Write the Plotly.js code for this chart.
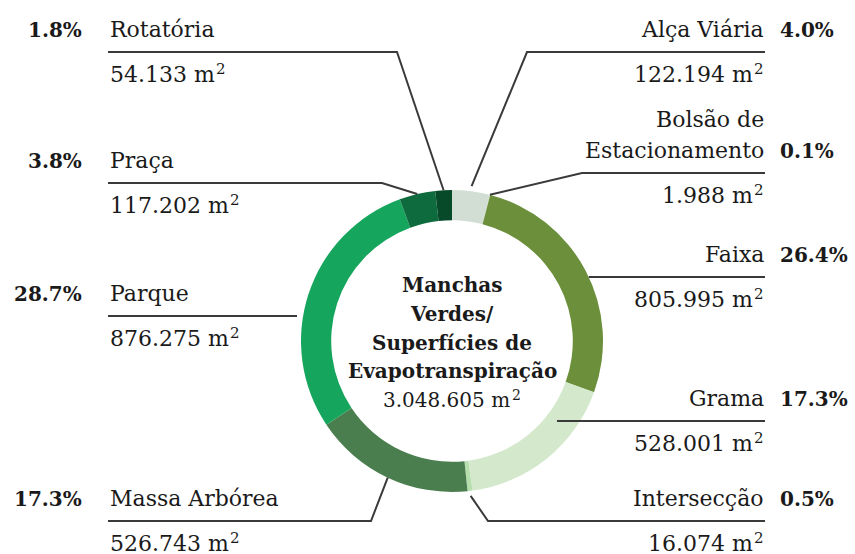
<!DOCTYPE html>
<html>
<head>
<meta charset="utf-8">
<script src="https://cdn.plot.ly/plotly-3.0.1.min.js"></script>
<style>
  html, body { margin: 0; padding: 0; background: #ffffff; }
  #chart { width: 855px; height: 554px; }
</style>
</head>
<body>
<div id="chart"></div>
<script>
// Green-area categories, in clockwise order from 12 o'clock
const categories = ['Alça Viária', 'Bolsão de Estacionamento', 'Faixa', 'Grama', 'Intersecção',
                    'Massa Arbórea', 'Parque', 'Praça', 'Rotatória'];
// Area of each category, in m²
const areas = [122194, 1988, 805995, 528001, 16074, 526743, 876275, 117202, 54133];
const sliceColors = ['#d2ddd4', '#c5d6c0', '#6b8f3b', '#d4e8cc', '#b6dfae',
                     '#4a7e4e', '#16a55d', '#0e6b3d', '#064a29'];
const centerTitle = ['Manchas', 'Verdes/', 'Superfícies de', 'Evapotranspiração'];

const W = 855, H = 554;
const CX = 452, CY = 341, R_OUT = 151, HOLE = 0.8;
const FONT = 'DejaVu Serif, Liberation Serif, serif';
const INK = '#1a1a1a';
const LINE = '#3a3a3a';

const total = areas.reduce((a, b) => a + b, 0);
const fmtInt = n => String(n).replace(/\B(?=(\d{3})+(?!\d))/g, '.');
const shares = areas.map(v => (v / total * 100).toFixed(1) + '%');

// Label block placement for each slice: side, y of the underline, x where the
// leader bends (null = straight horizontal leader), and contact radius on the ring.
const placement = [
  { side: 'right', lineY: 52,  kinkX: 527, r: 156 },
  { side: 'right', lineY: 173, kinkX: 582, r: 151, nameLines: ['Bolsão de', 'Estacionamento'], lineGap: 31 },
  { side: 'right', lineY: 277, kinkX: null, r: 151 },
  { side: 'right', lineY: 421, kinkX: null, r: 132 },
  { side: 'right', lineY: 521, kinkX: 488, r: 156 },
  { side: 'left',  lineY: 521, kinkX: 371, r: 151 },
  { side: 'left',  lineY: 316, kinkX: null, r: 157 },
  { side: 'left',  lineY: 183, kinkX: 382, r: 151 },
  { side: 'left',  lineY: 52,  kinkX: 397, r: 151 }
];

const LEFT_TEXT_X = 108, LEFT_PCT_X = 84;
const RIGHT_TEXT_X = 766, RIGHT_PCT_X = 778;
const NAME_SIZE = 22, PCT_SIZE = 20, CENTER_SIZE = 20;
const PAD = 2;          // annotation border + padding on each side

const px = x => x / W;
const py = y => 1 - y / H;
// annotation centre for a given text baseline (DejaVu ascent/descent)
const midFromBase = (base, size) => base - 0.346 * size;

const ctx = document.createElement('canvas').getContext('2d');
function textWidth(text, size) {
  ctx.font = size + 'px "DejaVu Serif"';
  return ctx.measureText(text).width;
}

function note(text, x, base, size, xanchor, bold) {
  return {
    text: bold ? '<b>' + text + '</b>' : text,
    x: px(x), y: py(midFromBase(base, size)),
    xref: 'paper', yref: 'paper',
    xanchor: xanchor, yanchor: 'middle',
    showarrow: false,
    font: { family: FONT, size: size, color: INK }
  };
}

// "<n> m" followed by a raised, smaller "2"
function areaNotes(n, x, base, size, align) {
  const main = fmtInt(n) + ' m';
  const supSize = Math.round(size * 0.68);
  const supBase = base - Math.round(size * 0.36);
  const wm = textWidth(main, size);
  const ws = textWidth('2', supSize);
  const gap = 1;
  let mainX, supX;
  if (align === 'left') {
    mainX = x;
    supX = x + wm + gap;
  } else if (align === 'right') {
    supX = x;
    mainX = x - ws - gap;
  } else {
    const start = x - (wm + gap + ws) / 2;
    mainX = start - PAD;
    supX = start + wm + gap - PAD;
    align = 'left';
  }
  return [
    note(main, mainX, base, size, align, false),
    note('2', supX, supBase, supSize, align, false)
  ];
}

const annotations = [];
const shapes = [];
let cum = 0;
areas.forEach((v, i) => {
  const p = placement[i];
  const mid = (cum + v / 2) / total;
  cum += v;
  const theta = mid * 2 * Math.PI;
  const isRight = p.side === 'right';
  const textX = isRight ? RIGHT_TEXT_X : LEFT_TEXT_X;
  const anchor = isRight ? 'right' : 'left';
  const nameBase = p.lineY - 15;
  const valueBase = p.lineY + 30;

  // category name (possibly on two lines)
  const lines = p.nameLines || [categories[i]];
  lines.forEach((t, k) => {
    const base = nameBase - (lines.length - 1 - k) * (p.lineGap || 0);
    annotations.push(note(t, textX, base, NAME_SIZE, anchor, false));
  });
  // share of total, bold, beside the last name line
  annotations.push(isRight
    ? note(shares[i], RIGHT_PCT_X, nameBase, PCT_SIZE, 'left', true)
    : note(shares[i], LEFT_PCT_X, nameBase, PCT_SIZE, 'right', true));
  // area value below the underline
  annotations.push(...areaNotes(v, textX, valueBase, NAME_SIZE, anchor));

  // leader line from the ring to the underline
  let contact;
  if (p.kinkX === null) {
    const dy = p.lineY - CY;
    const dx = Math.sqrt(p.r * p.r - dy * dy);
    contact = [isRight ? CX + dx : CX - dx, p.lineY];
  } else {
    contact = [CX + p.r * Math.sin(theta), CY - p.r * Math.cos(theta)];
  }
  const endX = isRight ? RIGHT_TEXT_X - 1 : LEFT_TEXT_X;
  const pts = [contact];
  if (p.kinkX !== null) pts.push([p.kinkX, p.lineY]);
  pts.push([endX, p.lineY]);
  const path = pts.map((q, k) => (k ? 'L' : 'M') + px(q[0]).toFixed(5) + ',' + py(q[1]).toFixed(5)).join(' ');
  shapes.push({
    type: 'path', xref: 'paper', yref: 'paper', path: path,
    line: { color: LINE, width: 2 }
  });
});

// text in the hole of the ring
const centerBases = [292, 321, 350, 378];
centerTitle.forEach((t, k) => annotations.push(note(t, CX, centerBases[k], CENTER_SIZE, 'center', true)));
annotations.push(...areaNotes(total, CX, 407, CENTER_SIZE, 'center'));

const pie = {
  type: 'pie',
  values: areas,
  labels: categories,
  sort: false,
  direction: 'clockwise',
  rotation: 0,
  hole: HOLE,
  textinfo: 'none',
  hoverinfo: 'label+value+percent',
  marker: { colors: sliceColors, line: { width: 0 } },
  domain: {
    x: [px(CX - R_OUT), px(CX + R_OUT)],
    y: [py(CY + R_OUT), py(CY - R_OUT)]
  },
  showlegend: false
};

const layout = {
  width: W, height: H,
  margin: { l: 0, r: 0, t: 0, b: 0 },
  paper_bgcolor: '#ffffff',
  showlegend: false,
  annotations: annotations,
  shapes: shapes
};

Plotly.newPlot('chart', [pie], layout, { displayModeBar: false, responsive: false });
</script>
</body>
</html>
